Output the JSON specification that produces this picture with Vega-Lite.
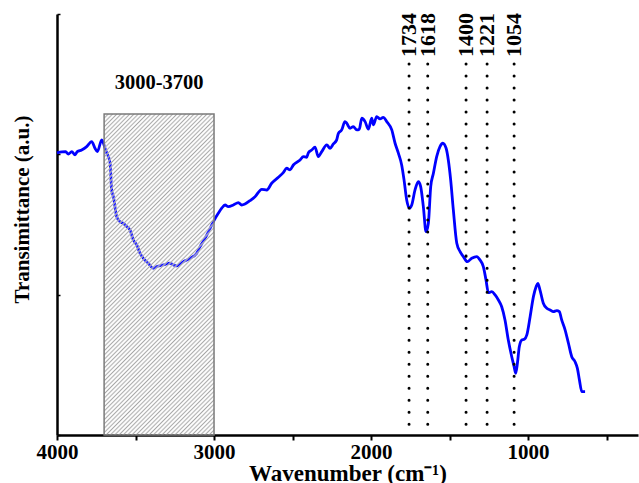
{
  "$schema": "https://vega.github.io/schema/vega-lite/v6.json",
  "width": 581,
  "height": 421,
  "autosize": {"type": "none"},
  "padding": {"left": 57, "top": 14, "right": 1, "bottom": 48},
  "background": "white",
  "view": {"stroke": null},
  "config": {"font": "Liberation Serif"},
  "datasets": {
    "spectrum": [
      {"wn": 4000, "t": 2.010}, {"wn": 3968, "t": 2.017}, {"wn": 3945, "t": 2.019}, {"wn": 3928, "t": 2.002},
      {"wn": 3906, "t": 2.019}, {"wn": 3885, "t": 1.996}, {"wn": 3871, "t": 2.019}, {"wn": 3843, "t": 2.031},
      {"wn": 3811, "t": 2.055}, {"wn": 3779, "t": 2.091}, {"wn": 3758, "t": 2.043}, {"wn": 3743, "t": 2.019},
      {"wn": 3715, "t": 2.103}, {"wn": 3694, "t": 2.043}, {"wn": 3683, "t": 2.010}, {"wn": 3662, "t": 1.939},
      {"wn": 3652, "t": 1.746}, {"wn": 3641, "t": 1.699}, {"wn": 3620, "t": 1.556}, {"wn": 3599, "t": 1.520},
      {"wn": 3578, "t": 1.509}, {"wn": 3556, "t": 1.485}, {"wn": 3535, "t": 1.461}, {"wn": 3514, "t": 1.390},
      {"wn": 3492, "t": 1.354}, {"wn": 3471, "t": 1.295}, {"wn": 3450, "t": 1.259}, {"wn": 3419, "t": 1.224},
      {"wn": 3387, "t": 1.188}, {"wn": 3365, "t": 1.200}, {"wn": 3323, "t": 1.212}, {"wn": 3280, "t": 1.224},
      {"wn": 3259, "t": 1.212}, {"wn": 3238, "t": 1.205}, {"wn": 3196, "t": 1.235}, {"wn": 3153, "t": 1.259},
      {"wn": 3110, "t": 1.295}, {"wn": 3089, "t": 1.342}, {"wn": 3057, "t": 1.402}, {"wn": 3026, "t": 1.470},
      {"wn": 3004, "t": 1.520}, {"wn": 2973, "t": 1.580}, {"wn": 2951, "t": 1.616}, {"wn": 2930, "t": 1.639},
      {"wn": 2909, "t": 1.627}, {"wn": 2877, "t": 1.639}, {"wn": 2845, "t": 1.656}, {"wn": 2824, "t": 1.639},
      {"wn": 2803, "t": 1.646}, {"wn": 2771, "t": 1.670}, {"wn": 2739, "t": 1.698}, {"wn": 2696, "t": 1.751},
      {"wn": 2664, "t": 1.746}, {"wn": 2633, "t": 1.794}, {"wn": 2590, "t": 1.837}, {"wn": 2559, "t": 1.870},
      {"wn": 2537, "t": 1.901}, {"wn": 2516, "t": 1.889}, {"wn": 2495, "t": 1.924}, {"wn": 2452, "t": 1.960},
      {"wn": 2431, "t": 1.984}, {"wn": 2410, "t": 1.979}, {"wn": 2399, "t": 2.012}, {"wn": 2378, "t": 2.031},
      {"wn": 2357, "t": 2.051}, {"wn": 2336, "t": 1.984}, {"wn": 2314, "t": 2.019}, {"wn": 2282, "t": 2.067},
      {"wn": 2261, "t": 2.043}, {"wn": 2240, "t": 2.074}, {"wn": 2219, "t": 2.103}, {"wn": 2208, "t": 2.150},
      {"wn": 2187, "t": 2.174}, {"wn": 2166, "t": 2.233}, {"wn": 2155, "t": 2.222}, {"wn": 2134, "t": 2.186},
      {"wn": 2113, "t": 2.197}, {"wn": 2091, "t": 2.174}, {"wn": 2075, "t": 2.179}, {"wn": 2059, "t": 2.257},
      {"wn": 2038, "t": 2.233}, {"wn": 2017, "t": 2.179}, {"wn": 1996, "t": 2.257}, {"wn": 1985, "t": 2.210},
      {"wn": 1964, "t": 2.269}, {"wn": 1943, "t": 2.252}, {"wn": 1922, "t": 2.264}, {"wn": 1900, "t": 2.233},
      {"wn": 1868, "t": 2.174}, {"wn": 1847, "t": 2.079}, {"wn": 1826, "t": 2.008}, {"wn": 1805, "t": 1.924},
      {"wn": 1790, "t": 1.818}, {"wn": 1773, "t": 1.675}, {"wn": 1756, "t": 1.616}, {"wn": 1741, "t": 1.639},
      {"wn": 1720, "t": 1.746}, {"wn": 1699, "t": 1.805}, {"wn": 1684, "t": 1.770}, {"wn": 1667, "t": 1.627},
      {"wn": 1650, "t": 1.449}, {"wn": 1635, "t": 1.509}, {"wn": 1620, "t": 1.770}, {"wn": 1603, "t": 1.865},
      {"wn": 1582, "t": 1.984}, {"wn": 1561, "t": 2.055}, {"wn": 1543, "t": 2.079}, {"wn": 1522, "t": 2.043},
      {"wn": 1508, "t": 1.960}, {"wn": 1493, "t": 1.818}, {"wn": 1476, "t": 1.604}, {"wn": 1454, "t": 1.366},
      {"wn": 1433, "t": 1.307}, {"wn": 1412, "t": 1.271}, {"wn": 1387, "t": 1.235}, {"wn": 1359, "t": 1.259},
      {"wn": 1327, "t": 1.271}, {"wn": 1306, "t": 1.247}, {"wn": 1285, "t": 1.200}, {"wn": 1268, "t": 1.105},
      {"wn": 1253, "t": 1.014}, {"wn": 1231, "t": 1.021}, {"wn": 1210, "t": 0.998}, {"wn": 1189, "t": 0.962},
      {"wn": 1168, "t": 0.914}, {"wn": 1147, "t": 0.820}, {"wn": 1126, "t": 0.677}, {"wn": 1104, "t": 0.558},
      {"wn": 1089, "t": 0.487}, {"wn": 1079, "t": 0.440}, {"wn": 1068, "t": 0.511}, {"wn": 1056, "t": 0.629},
      {"wn": 1040, "t": 0.677}, {"wn": 1024, "t": 0.682}, {"wn": 1008, "t": 0.713}, {"wn": 987, "t": 0.843},
      {"wn": 966, "t": 0.986}, {"wn": 949, "t": 1.057}, {"wn": 938, "t": 1.081}, {"wn": 924, "t": 1.033},
      {"wn": 903, "t": 0.939}, {"wn": 881, "t": 0.903}, {"wn": 860, "t": 0.891}, {"wn": 839, "t": 0.879},
      {"wn": 817, "t": 0.886}, {"wn": 801, "t": 0.879}, {"wn": 786, "t": 0.820}, {"wn": 764, "t": 0.748},
      {"wn": 743, "t": 0.654}, {"wn": 722, "t": 0.558}, {"wn": 701, "t": 0.522}, {"wn": 686, "t": 0.475},
      {"wn": 673, "t": 0.392}, {"wn": 658, "t": 0.309}, {"wn": 637, "t": 0.309}
    ],
    "region": [{"from": 3700, "to": 3000, "top": 2.288, "label": "3000-3700", "mid": 3350}],
    "peaks": [
      {"pos": 1758, "label": "1734"},
      {"pos": 1639, "label": "1618"},
      {"pos": 1395, "label": "1400"},
      {"pos": 1261, "label": "1221"},
      {"pos": 1089, "label": "1054"}
    ]
  },
  "layer": [
    {
      "data": {"name": "spectrum"},
      "mark": {"type": "line", "color": "#0000ff", "strokeWidth": 2.8, "interpolate": "monotone"},
      "encoding": {
        "x": {
          "field": "wn", "type": "quantitative",
          "scale": {"domain": [4000, 300], "nice": false, "zero": false},
          "axis": {
            "values": [4000, 3500, 3000, 2500, 2000, 1500, 1000, 500],
            "labelExpr": "datum.value % 1000 === 0 ? datum.value : ''",
            "labelFont": "Liberation Serif", "labelFontWeight": "bold", "labelFontSize": 21, "labelColor": "black",
            "labelPadding": 1, "labelFlush": false,
            "tickSize": 5, "tickWidth": 2, "tickColor": "black",
            "domainColor": "black", "domainWidth": 2.5, "grid": false,
            "title": "Wavenumber (cm⁻¹)",
            "titleFont": "Liberation Serif", "titleFontWeight": "bold", "titleFontSize": 23, "titleColor": "black",
            "titleBaseline": "alphabetic", "titleY": 45
          }
        },
        "y": {
          "field": "t", "type": "quantitative",
          "scale": {"domain": [0, 3], "nice": false, "zero": false},
          "axis": {
            "values": [0, 1, 2, 3], "labels": false,
            "tickSize": -3, "tickWidth": 1.5, "tickColor": "black",
            "domainColor": "black", "domainWidth": 2.5, "grid": false,
            "title": "Transimittance (a.u.)",
            "titleFont": "Liberation Serif", "titleFontWeight": "bold", "titleFontSize": 21, "titleColor": "black",
            "titleAngle": -90, "titleBaseline": "bottom", "titleAlign": "center", "titleX": -25, "titleY": 195
          }
        }
      }
    },
    {
      "data": {"name": "region"},
      "mark": {
        "type": "rect", "stroke": "#7a7a7a", "strokeWidth": 1.5,
        "fill": {
          "gradient": "linear", "x1": 0, "y1": 0, "x2": 0.412, "y2": 1.2,
          "stops": [
            {"offset": 0, "color": "#a6a6a6"}, {"offset": 0.005, "color": "rgba(255,255,255,0)"},
            {"offset": 0.01, "color": "#a6a6a6"}, {"offset": 0.015, "color": "rgba(255,255,255,0)"},
            {"offset": 0.02, "color": "#a6a6a6"}, {"offset": 0.025, "color": "rgba(255,255,255,0)"},
            {"offset": 0.03, "color": "#a6a6a6"}, {"offset": 0.035, "color": "rgba(255,255,255,0)"},
            {"offset": 0.04, "color": "#a6a6a6"}, {"offset": 0.045, "color": "rgba(255,255,255,0)"},
            {"offset": 0.05, "color": "#a6a6a6"}, {"offset": 0.055, "color": "rgba(255,255,255,0)"},
            {"offset": 0.06, "color": "#a6a6a6"}, {"offset": 0.065, "color": "rgba(255,255,255,0)"},
            {"offset": 0.07, "color": "#a6a6a6"}, {"offset": 0.075, "color": "rgba(255,255,255,0)"},
            {"offset": 0.08, "color": "#a6a6a6"}, {"offset": 0.085, "color": "rgba(255,255,255,0)"},
            {"offset": 0.09, "color": "#a6a6a6"}, {"offset": 0.095, "color": "rgba(255,255,255,0)"},
            {"offset": 0.10, "color": "#a6a6a6"}, {"offset": 0.105, "color": "rgba(255,255,255,0)"},
            {"offset": 0.11, "color": "#a6a6a6"}, {"offset": 0.115, "color": "rgba(255,255,255,0)"},
            {"offset": 0.12, "color": "#a6a6a6"}, {"offset": 0.125, "color": "rgba(255,255,255,0)"},
            {"offset": 0.13, "color": "#a6a6a6"}, {"offset": 0.135, "color": "rgba(255,255,255,0)"},
            {"offset": 0.14, "color": "#a6a6a6"}, {"offset": 0.145, "color": "rgba(255,255,255,0)"},
            {"offset": 0.15, "color": "#a6a6a6"}, {"offset": 0.155, "color": "rgba(255,255,255,0)"},
            {"offset": 0.16, "color": "#a6a6a6"}, {"offset": 0.165, "color": "rgba(255,255,255,0)"},
            {"offset": 0.17, "color": "#a6a6a6"}, {"offset": 0.175, "color": "rgba(255,255,255,0)"},
            {"offset": 0.18, "color": "#a6a6a6"}, {"offset": 0.185, "color": "rgba(255,255,255,0)"},
            {"offset": 0.19, "color": "#a6a6a6"}, {"offset": 0.195, "color": "rgba(255,255,255,0)"},
            {"offset": 0.20, "color": "#a6a6a6"}, {"offset": 0.205, "color": "rgba(255,255,255,0)"},
            {"offset": 0.21, "color": "#a6a6a6"}, {"offset": 0.215, "color": "rgba(255,255,255,0)"},
            {"offset": 0.22, "color": "#a6a6a6"}, {"offset": 0.225, "color": "rgba(255,255,255,0)"},
            {"offset": 0.23, "color": "#a6a6a6"}, {"offset": 0.235, "color": "rgba(255,255,255,0)"},
            {"offset": 0.24, "color": "#a6a6a6"}, {"offset": 0.245, "color": "rgba(255,255,255,0)"},
            {"offset": 0.25, "color": "#a6a6a6"}, {"offset": 0.255, "color": "rgba(255,255,255,0)"},
            {"offset": 0.26, "color": "#a6a6a6"}, {"offset": 0.265, "color": "rgba(255,255,255,0)"},
            {"offset": 0.27, "color": "#a6a6a6"}, {"offset": 0.275, "color": "rgba(255,255,255,0)"},
            {"offset": 0.28, "color": "#a6a6a6"}, {"offset": 0.285, "color": "rgba(255,255,255,0)"},
            {"offset": 0.29, "color": "#a6a6a6"}, {"offset": 0.295, "color": "rgba(255,255,255,0)"},
            {"offset": 0.30, "color": "#a6a6a6"}, {"offset": 0.305, "color": "rgba(255,255,255,0)"},
            {"offset": 0.31, "color": "#a6a6a6"}, {"offset": 0.315, "color": "rgba(255,255,255,0)"},
            {"offset": 0.32, "color": "#a6a6a6"}, {"offset": 0.325, "color": "rgba(255,255,255,0)"},
            {"offset": 0.33, "color": "#a6a6a6"}, {"offset": 0.335, "color": "rgba(255,255,255,0)"},
            {"offset": 0.34, "color": "#a6a6a6"}, {"offset": 0.345, "color": "rgba(255,255,255,0)"},
            {"offset": 0.35, "color": "#a6a6a6"}, {"offset": 0.355, "color": "rgba(255,255,255,0)"},
            {"offset": 0.36, "color": "#a6a6a6"}, {"offset": 0.365, "color": "rgba(255,255,255,0)"},
            {"offset": 0.37, "color": "#a6a6a6"}, {"offset": 0.375, "color": "rgba(255,255,255,0)"},
            {"offset": 0.38, "color": "#a6a6a6"}, {"offset": 0.385, "color": "rgba(255,255,255,0)"},
            {"offset": 0.39, "color": "#a6a6a6"}, {"offset": 0.395, "color": "rgba(255,255,255,0)"},
            {"offset": 0.40, "color": "#a6a6a6"}, {"offset": 0.405, "color": "rgba(255,255,255,0)"},
            {"offset": 0.41, "color": "#a6a6a6"}, {"offset": 0.415, "color": "rgba(255,255,255,0)"},
            {"offset": 0.42, "color": "#a6a6a6"}, {"offset": 0.425, "color": "rgba(255,255,255,0)"},
            {"offset": 0.43, "color": "#a6a6a6"}, {"offset": 0.435, "color": "rgba(255,255,255,0)"},
            {"offset": 0.44, "color": "#a6a6a6"}, {"offset": 0.445, "color": "rgba(255,255,255,0)"},
            {"offset": 0.45, "color": "#a6a6a6"}, {"offset": 0.455, "color": "rgba(255,255,255,0)"},
            {"offset": 0.46, "color": "#a6a6a6"}, {"offset": 0.465, "color": "rgba(255,255,255,0)"},
            {"offset": 0.47, "color": "#a6a6a6"}, {"offset": 0.475, "color": "rgba(255,255,255,0)"},
            {"offset": 0.48, "color": "#a6a6a6"}, {"offset": 0.485, "color": "rgba(255,255,255,0)"},
            {"offset": 0.49, "color": "#a6a6a6"}, {"offset": 0.495, "color": "rgba(255,255,255,0)"},
            {"offset": 0.50, "color": "#a6a6a6"}, {"offset": 0.505, "color": "rgba(255,255,255,0)"},
            {"offset": 0.51, "color": "#a6a6a6"}, {"offset": 0.515, "color": "rgba(255,255,255,0)"},
            {"offset": 0.52, "color": "#a6a6a6"}, {"offset": 0.525, "color": "rgba(255,255,255,0)"},
            {"offset": 0.53, "color": "#a6a6a6"}, {"offset": 0.535, "color": "rgba(255,255,255,0)"},
            {"offset": 0.54, "color": "#a6a6a6"}, {"offset": 0.545, "color": "rgba(255,255,255,0)"},
            {"offset": 0.55, "color": "#a6a6a6"}, {"offset": 0.555, "color": "rgba(255,255,255,0)"},
            {"offset": 0.56, "color": "#a6a6a6"}, {"offset": 0.565, "color": "rgba(255,255,255,0)"},
            {"offset": 0.57, "color": "#a6a6a6"}, {"offset": 0.575, "color": "rgba(255,255,255,0)"},
            {"offset": 0.58, "color": "#a6a6a6"}, {"offset": 0.585, "color": "rgba(255,255,255,0)"},
            {"offset": 0.59, "color": "#a6a6a6"}, {"offset": 0.595, "color": "rgba(255,255,255,0)"},
            {"offset": 0.60, "color": "#a6a6a6"}, {"offset": 0.605, "color": "rgba(255,255,255,0)"},
            {"offset": 0.61, "color": "#a6a6a6"}, {"offset": 0.615, "color": "rgba(255,255,255,0)"},
            {"offset": 0.62, "color": "#a6a6a6"}, {"offset": 0.625, "color": "rgba(255,255,255,0)"},
            {"offset": 0.63, "color": "#a6a6a6"}, {"offset": 0.635, "color": "rgba(255,255,255,0)"},
            {"offset": 0.64, "color": "#a6a6a6"}, {"offset": 0.645, "color": "rgba(255,255,255,0)"},
            {"offset": 0.65, "color": "#a6a6a6"}, {"offset": 0.655, "color": "rgba(255,255,255,0)"},
            {"offset": 0.66, "color": "#a6a6a6"}, {"offset": 0.665, "color": "rgba(255,255,255,0)"},
            {"offset": 0.67, "color": "#a6a6a6"}, {"offset": 0.675, "color": "rgba(255,255,255,0)"},
            {"offset": 0.68, "color": "#a6a6a6"}, {"offset": 0.685, "color": "rgba(255,255,255,0)"},
            {"offset": 0.69, "color": "#a6a6a6"}, {"offset": 0.695, "color": "rgba(255,255,255,0)"},
            {"offset": 0.70, "color": "#a6a6a6"}, {"offset": 0.705, "color": "rgba(255,255,255,0)"},
            {"offset": 0.71, "color": "#a6a6a6"}, {"offset": 0.715, "color": "rgba(255,255,255,0)"},
            {"offset": 0.72, "color": "#a6a6a6"}, {"offset": 0.725, "color": "rgba(255,255,255,0)"},
            {"offset": 0.73, "color": "#a6a6a6"}, {"offset": 0.735, "color": "rgba(255,255,255,0)"},
            {"offset": 0.74, "color": "#a6a6a6"}, {"offset": 0.745, "color": "rgba(255,255,255,0)"},
            {"offset": 0.75, "color": "#a6a6a6"}, {"offset": 0.755, "color": "rgba(255,255,255,0)"},
            {"offset": 0.76, "color": "#a6a6a6"}, {"offset": 0.765, "color": "rgba(255,255,255,0)"},
            {"offset": 0.77, "color": "#a6a6a6"}, {"offset": 0.775, "color": "rgba(255,255,255,0)"},
            {"offset": 0.78, "color": "#a6a6a6"}, {"offset": 0.785, "color": "rgba(255,255,255,0)"},
            {"offset": 0.79, "color": "#a6a6a6"}, {"offset": 0.795, "color": "rgba(255,255,255,0)"},
            {"offset": 0.80, "color": "#a6a6a6"}, {"offset": 0.805, "color": "rgba(255,255,255,0)"},
            {"offset": 0.81, "color": "#a6a6a6"}, {"offset": 0.815, "color": "rgba(255,255,255,0)"},
            {"offset": 0.82, "color": "#a6a6a6"}, {"offset": 0.825, "color": "rgba(255,255,255,0)"},
            {"offset": 0.83, "color": "#a6a6a6"}, {"offset": 0.835, "color": "rgba(255,255,255,0)"},
            {"offset": 0.84, "color": "#a6a6a6"}, {"offset": 0.845, "color": "rgba(255,255,255,0)"},
            {"offset": 0.85, "color": "#a6a6a6"}, {"offset": 0.855, "color": "rgba(255,255,255,0)"},
            {"offset": 0.86, "color": "#a6a6a6"}, {"offset": 0.865, "color": "rgba(255,255,255,0)"},
            {"offset": 0.87, "color": "#a6a6a6"}, {"offset": 0.875, "color": "rgba(255,255,255,0)"},
            {"offset": 0.88, "color": "#a6a6a6"}, {"offset": 0.885, "color": "rgba(255,255,255,0)"},
            {"offset": 0.89, "color": "#a6a6a6"}, {"offset": 0.895, "color": "rgba(255,255,255,0)"},
            {"offset": 0.90, "color": "#a6a6a6"}, {"offset": 0.905, "color": "rgba(255,255,255,0)"},
            {"offset": 0.91, "color": "#a6a6a6"}, {"offset": 0.915, "color": "rgba(255,255,255,0)"},
            {"offset": 0.92, "color": "#a6a6a6"}, {"offset": 0.925, "color": "rgba(255,255,255,0)"},
            {"offset": 0.93, "color": "#a6a6a6"}, {"offset": 0.935, "color": "rgba(255,255,255,0)"},
            {"offset": 0.94, "color": "#a6a6a6"}, {"offset": 0.945, "color": "rgba(255,255,255,0)"},
            {"offset": 0.95, "color": "#a6a6a6"}, {"offset": 0.955, "color": "rgba(255,255,255,0)"},
            {"offset": 0.96, "color": "#a6a6a6"}, {"offset": 0.965, "color": "rgba(255,255,255,0)"},
            {"offset": 0.97, "color": "#a6a6a6"}, {"offset": 0.975, "color": "rgba(255,255,255,0)"},
            {"offset": 0.98, "color": "#a6a6a6"}, {"offset": 0.985, "color": "rgba(255,255,255,0)"},
            {"offset": 0.99, "color": "#a6a6a6"}, {"offset": 0.995, "color": "rgba(255,255,255,0)"},
            {"offset": 1, "color": "#a6a6a6"}
          ]
        }
      },
      "encoding": {
        "x": {"field": "from", "type": "quantitative"},
        "x2": {"field": "to"},
        "y": {"field": "top", "type": "quantitative"},
        "y2": {"datum": 0}
      }
    },
    {
      "data": {"name": "region"},
      "mark": {"type": "text", "font": "Liberation Serif", "fontWeight": "bold", "fontSize": 20.5, "color": "black", "baseline": "alphabetic", "align": "center"},
      "encoding": {
        "x": {"field": "mid", "type": "quantitative"},
        "y": {"datum": 2.466},
        "text": {"field": "label"}
      }
    },
    {
      "data": {"name": "peaks"},
      "mark": {"type": "rule", "color": "black", "strokeWidth": 3, "strokeDash": [0.01, 12], "strokeCap": "round"},
      "encoding": {
        "x": {"field": "pos", "type": "quantitative"},
        "y": {"datum": 2.644},
        "y2": {"datum": 0}
      }
    },
    {
      "data": {"name": "peaks"},
      "mark": {"type": "text", "font": "Liberation Serif", "fontWeight": "bold", "fontSize": 22, "color": "black", "angle": 270, "align": "left", "baseline": "middle"},
      "encoding": {
        "x": {"field": "pos", "type": "quantitative"},
        "y": {"datum": 2.694},
        "text": {"field": "label"}
      }
    }
  ]
}
